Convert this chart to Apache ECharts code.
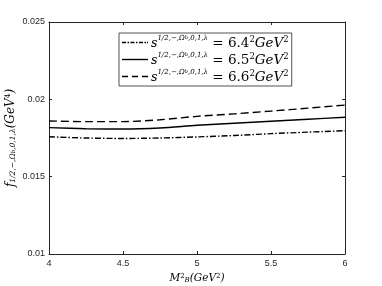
<!DOCTYPE html>
<html><head><meta charset="utf-8">
<script src="https://cdn.jsdelivr.net/npm/echarts@6/dist/echarts.min.js"></script>
<style>html,body{margin:0;padding:0;background:#fff}#c{width:382px;height:286px}</style>
</head><body><div id="c"></div>
<script>
const xValues = [4, 4.25, 4.5, 4.75, 5, 5.25, 5.5, 5.75, 6];
const s64 = [0.01758, 0.01750, 0.01747, 0.01750, 0.01757, 0.01766, 0.01778, 0.01788, 0.01797];
const s65 = [0.01817, 0.01810, 0.01808, 0.01815, 0.01832, 0.01845, 0.01858, 0.01871, 0.01884];
const s66 = [0.01860, 0.01856, 0.01856, 0.01868, 0.01890, 0.01906, 0.01924, 0.01943, 0.01963];
const seriesNames = ['6.4', '6.5', '6.6'];
const xTickLabels = ['4', '4.5', '5', '5.5', '6'];
const yTickLabels = ['0.01', '0.015', '0.02', '0.025'];

const axisColor = '#262626';
const serif = '"DejaVu Serif", "Liberation Serif", serif';
const tickFont = { fontFamily: 'Liberation Sans, Arial, sans-serif', fontSize: 9, color: axisColor };

// legend glyphs (line-style samples, not data marks)
const iconDashDot = 'path://M0,0h4v1.4h-4z M5.5,0h1.5v1.4h-1.5z M8.5,0h4v1.4h-4z M14,0h1.5v1.4h-1.5z M17,0h4v1.4h-4z M22.5,0h1.5v1.4h-1.5z M25,0h1v1.4h-1z';
const iconSolid = 'path://M0,0h26v1.4h-26z';
const iconDashed = 'path://M0,0h6v1.4h-6z M10,0h6v1.4h-6z M20,0h6v1.4h-6z';

function pairs(arr) { return xValues.map((x, i) => [x, arr[i]]); }

const chart = echarts.init(document.getElementById('c'), null, { renderer: 'canvas' });
const baseLine = { type: 'line', symbol: 'none', smooth: 0.3, showSymbol: false, xAxisIndex: 0, yAxisIndex: 0 };

chart.setOption({
  animation: false,
  backgroundColor: '#fff',
  grid: { left: 49, right: 37, top: 22, bottom: 32, containLabel: false, outerBoundsMode: 'none' },
  legend: {
    left: 119, top: 33, orient: 'vertical',
    itemWidth: 26, itemHeight: 1.4, itemGap: 2,
    padding: [2, 3, 2, 3],
    borderColor: axisColor, borderWidth: 0.8, backgroundColor: '#fff',
    data: [
      { name: seriesNames[0], icon: iconDashDot },
      { name: seriesNames[1], icon: iconSolid },
      { name: seriesNames[2], icon: iconDashed }
    ],
    formatter: function (n) {
      return '{s|s}{sup|1/2,−,Ω}{supb|b}{sup|,0,1,λ}{eq| = ' + n + '}{sq|2}{eqi|GeV}{sq|2}';
    },
    textStyle: {
      color: '#000', padding: [0, 0, 0, -2],
      rich: {
        s: { fontFamily: serif, fontStyle: 'italic', fontSize: 12.5, verticalAlign: 'bottom', lineHeight: 15 },
        sup: { fontFamily: serif, fontStyle: 'italic', fontSize: 7, verticalAlign: 'top', lineHeight: 15 },
        supb: { fontFamily: serif, fontStyle: 'italic', fontSize: 5, verticalAlign: 'top', lineHeight: 13 },
        eq: { fontFamily: serif, fontSize: 13.5, verticalAlign: 'bottom', lineHeight: 15 },
        eqi: { fontFamily: serif, fontStyle: 'italic', fontSize: 13.5, verticalAlign: 'bottom', lineHeight: 15 },
        sq: { fontFamily: serif, fontSize: 8.5, verticalAlign: 'top', lineHeight: 15 }
      }
    }
  },
  xAxis: [{
    type: 'value', min: 4, max: 6, interval: 0.5,
    axisLine: { lineStyle: { color: axisColor, width: 1 } },
    axisTick: { inside: true, length: 3, lineStyle: { color: axisColor } },
    splitLine: { show: false },
    axisLabel: Object.assign({ margin: 5, formatter: v => xTickLabels[Math.round((v - 4) / 0.5)] }, tickFont),
    name: '{i|M}{sup|2}{sub|B}{t|(GeV}{sup|2}{t|)}', nameLocation: 'middle', nameGap: 16,
    nameTextStyle: {
      color: '#000',
      rich: {
        i: { fontFamily: serif, fontStyle: 'italic', fontSize: 10.5 },
        t: { fontFamily: serif, fontStyle: 'italic', fontSize: 10.5 },
        sup: { fontFamily: serif, fontSize: 7, verticalAlign: 'top', lineHeight: 11 },
        sub: { fontFamily: serif, fontStyle: 'italic', fontSize: 7, verticalAlign: 'bottom', lineHeight: 11 }
      }
    }
  }, {
    type: 'value', min: 4, max: 6, interval: 0.5, position: 'top',
    axisLine: { lineStyle: { color: axisColor, width: 1 } },
    axisTick: { inside: true, length: 3, lineStyle: { color: axisColor } },
    axisLabel: { show: false }, splitLine: { show: false }
  }],
  yAxis: [{
    type: 'value', min: 0.01, max: 0.025, interval: 0.005,
    axisLine: { show: true, lineStyle: { color: axisColor, width: 1 } },
    axisTick: { show: true, inside: true, length: 3, lineStyle: { color: axisColor } },
    splitLine: { show: false },
    axisLabel: Object.assign({ margin: 4, formatter: v => yTickLabels[Math.round((v - 0.01) / 0.005)] }, tickFont),
    name: '{i|f}{sub|1/2,−,Ω}{subb|b}{sub|,0,1,λ}{t|(GeV}{sup|4}{t|)}', nameLocation: 'middle', nameGap: 32, nameRotate: 90,
    nameMoveOverlap: false,
    nameTextStyle: {
      color: '#000',
      rich: {
        i: { fontFamily: serif, fontStyle: 'italic', fontSize: 12 },
        t: { fontFamily: serif, fontStyle: 'italic', fontSize: 12 },
        sup: { fontFamily: serif, fontSize: 7.5, verticalAlign: 'top', lineHeight: 13 },
        sub: { fontFamily: serif, fontStyle: 'italic', fontSize: 7.5, verticalAlign: 'bottom', lineHeight: 13 },
        subb: { fontFamily: serif, fontStyle: 'italic', fontSize: 5.5, verticalAlign: 'bottom', lineHeight: 11 }
      }
    }
  }, {
    type: 'value', min: 0.01, max: 0.025, interval: 0.005, position: 'right',
    axisLine: { show: true, lineStyle: { color: axisColor, width: 1 } },
    axisTick: { show: true, inside: true, length: 3, lineStyle: { color: axisColor } },
    axisLabel: { show: false }, splitLine: { show: false }
  }],
  series: [
    Object.assign({}, baseLine, { name: seriesNames[0], data: pairs(s64), lineStyle: { color: '#000', width: 1.4, type: [6, 2, 1.5, 2] }, itemStyle: { color: '#000' } }),
    Object.assign({}, baseLine, { name: seriesNames[1], data: pairs(s65), lineStyle: { color: '#000', width: 1.4, type: 'solid' }, itemStyle: { color: '#000' } }),
    Object.assign({}, baseLine, { name: seriesNames[2], data: pairs(s66), lineStyle: { color: '#000', width: 1.4, type: [8, 4] }, itemStyle: { color: '#000' } })
  ]
});
</script></body></html>
